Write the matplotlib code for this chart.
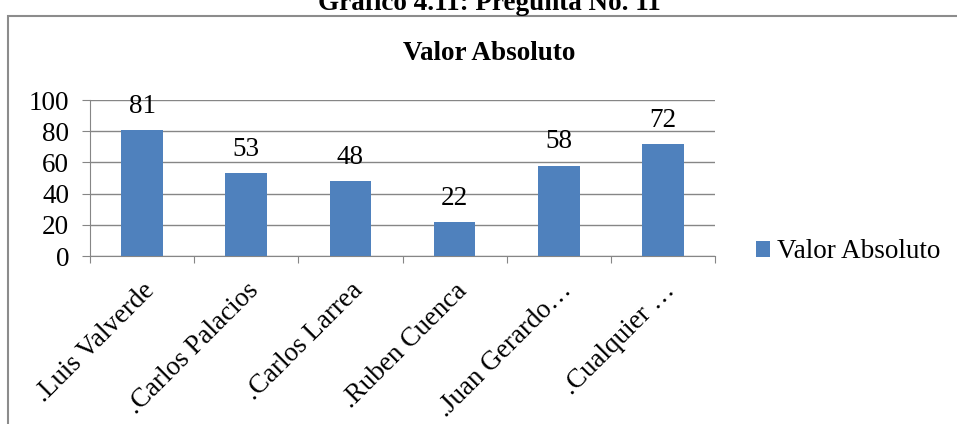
import matplotlib.pyplot as plt
from matplotlib.patches import Rectangle
import numpy as np

categories = [".Luis Valverde", ".Carlos Palacios", ".Carlos Larrea",
              ".Ruben Cuenca", ".Juan Gerardo…", ".Cualquier …"]
values = [81, 53, 48, 22, 58, 72]
series_name = "Valor Absoluto"
y_ticks = [0, 20, 40, 60, 80, 100]

plt.rcParams['font.family'] = ['Liberation Serif', 'DejaVu Serif']
bar_color = '#4F81BD'
grey = '#868686'
fs = 19.5

W, H = 957, 424
fig = plt.figure(figsize=(W / 100, H / 100), dpi=100)

# page caption (cut at top in the original)
fig.text(489 / W, 1 - 10 / H, "Gráfico 4.11: Pregunta No. 11", ha='center',
         va='baseline', fontsize=fs, fontweight='bold')

# chart frame
fig.patches.append(Rectangle((8 / W, -0.1), 1.2, 1 - 16 / H + 0.1,
                             transform=fig.transFigure, fill=False,
                             edgecolor='#8c8c8c', linewidth=1.5))

ax = fig.add_axes([90 / W, 1 - 256 / H, (715 - 90) / W, (256 - 100) / H])
x = np.arange(len(categories))
bars = ax.bar(x, values, width=0.4, color=bar_color, zorder=3)

# value labels above bars
for xi, v in zip(x, values):
    ax.annotate(str(v), (xi, v), xytext=(0, 8), textcoords='offset points',
                ha='center', va='bottom', fontsize=fs)

ax.set_xlim(-0.5, len(categories) - 0.5)
ax.set_ylim(0, 100)
ax.set_yticks(y_ticks)
ax.tick_params(axis='y', labelsize=fs, length=6, color=grey, pad=9)
ax.yaxis.grid(True, color=grey, linewidth=1, zorder=0)
ax.set_axisbelow(True)

# category boundary ticks, labels at centres
ax.set_xticks(np.arange(-0.5, len(categories)), minor=False)
ax.set_xticklabels([])
ax.set_xticks(x, minor=True)
ax.set_xticklabels(categories, minor=True, rotation=45, ha='right',
                   rotation_mode='anchor', fontsize=fs)
ax.tick_params(axis='x', which='major', length=5, color=grey)
ax.tick_params(axis='x', which='minor', length=0, pad=16)

for s in ['top', 'right']:
    ax.spines[s].set_visible(False)
for s in ['left', 'bottom']:
    ax.spines[s].set_color(grey)

ax.text(489 / W, 1 - 53 / H, series_name, transform=fig.transFigure,
        ha='center', va='center', fontsize=fs, fontweight='bold')

fig.legend([bars], [series_name], loc='center left',
           bbox_to_anchor=(756 / W, 1 - 252 / H), frameon=False,
           fontsize=fs, handlelength=0.52, handleheight=0.52,
           handletextpad=0.26, borderpad=0, borderaxespad=0)

fig.savefig('out.png', dpi=100)
